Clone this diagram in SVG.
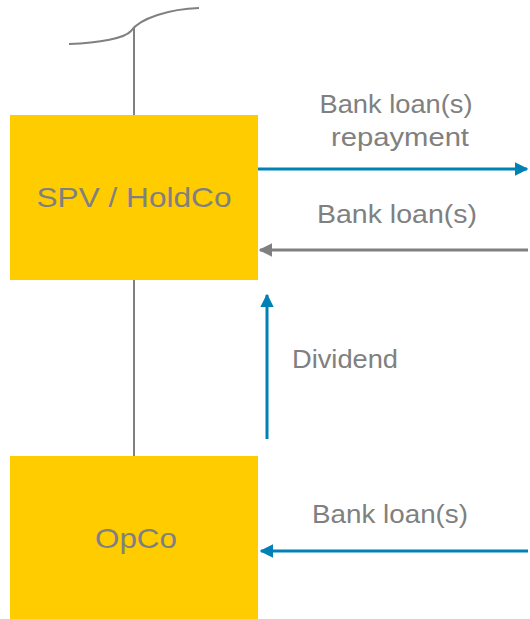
<svg xmlns="http://www.w3.org/2000/svg" width="530" height="619" viewBox="0 0 530 619">
  <style>
    .box { fill: #FFCC00; }
    .lbl { font-family: "Liberation Sans", Arial, sans-serif; fill: #808080; text-anchor: middle; }
    .big { font-size: 28px; }
    .small { font-size: 25px; }
    .line { stroke: #808080; stroke-width: 2; fill: none; }
    .blue { stroke: #0081B5; stroke-width: 3; fill: none; }
    .grey { stroke: #808080; stroke-width: 3; fill: none; }
  </style>
  <defs>
    <marker id="ab" viewBox="0 0 10 10" refX="9" refY="5" markerWidth="4.5" markerHeight="4.5" markerUnits="strokeWidth" orient="auto">
      <path d="M0,0 L10,5 L0,10 Z" fill="#0081B5"/>
    </marker>
    <marker id="ag" viewBox="0 0 10 10" refX="9" refY="5" markerWidth="4.5" markerHeight="4.5" markerUnits="strokeWidth" orient="auto">
      <path d="M0,0 L10,5 L0,10 Z" fill="#808080"/>
    </marker>
  </defs>
  <g id="connectors">
    <path class="line" d="M69,44 C100,43 125,38 131,31 C140,18 170,9 199,8"/>
    <path class="line" d="M134,28 L134,115"/>
    <path class="line" d="M134,280 L134,456"/>
    <path class="blue" d="M258,169 L527,169" marker-end="url(#ab)"/>
    <path class="grey" d="M528,250 L260,250" marker-end="url(#ag)"/>
    <path class="blue" d="M267,439 L267,295" marker-end="url(#ab)"/>
    <path class="blue" d="M528,551 L261,551" marker-end="url(#ab)"/>
  </g>
  <g id="spv">
    <rect class="box" x="10" y="115" width="248" height="165"/>
    <text class="lbl big" x="134" y="207" textLength="195" lengthAdjust="spacingAndGlyphs">SPV / HoldCo</text>
  </g>
  <g id="opco">
    <rect class="box" x="10" y="456" width="248" height="163"/>
    <text class="lbl big" x="136" y="548" textLength="82" lengthAdjust="spacingAndGlyphs">OpCo</text>
  </g>
  <g id="labels">
    <text class="lbl small" x="396" y="113" textLength="153" lengthAdjust="spacingAndGlyphs">Bank loan(s)</text>
    <text class="lbl small" x="400" y="146" textLength="138" lengthAdjust="spacingAndGlyphs">repayment</text>
    <text class="lbl small" x="397" y="223" textLength="160" lengthAdjust="spacingAndGlyphs">Bank loan(s)</text>
    <text class="lbl small" x="345" y="368" textLength="106" lengthAdjust="spacingAndGlyphs">Dividend</text>
    <text class="lbl small" x="390" y="523" textLength="156" lengthAdjust="spacingAndGlyphs">Bank loan(s)</text>
  </g>
</svg>
